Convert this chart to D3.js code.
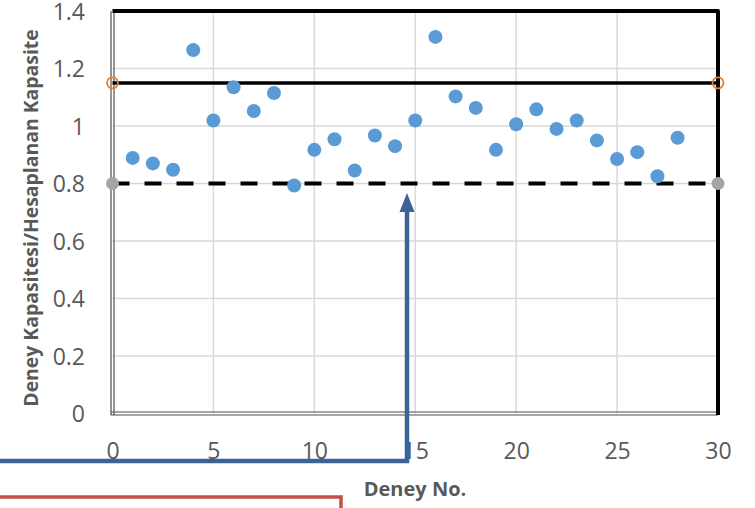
<!DOCTYPE html>
<html>
<head>
<meta charset="utf-8">
<script src="https://cdn.jsdelivr.net/npm/d3@7"></script>
<style>
  html, body { margin: 0; padding: 0; background: #fff; }
  svg { display: block; }
</style>
</head>
<body>
<svg id="chart" width="755" height="508"></svg>
<script>
// Test number vs. ratio of measured to calculated capacity
const testNo = [1, 2, 3, 4, 5, 6, 7, 8, 9, 10, 11, 12, 13, 14, 15, 16, 17, 18, 19, 20, 21, 22, 23, 24, 25, 26, 27, 28];
const ratio = [0.889, 0.870, 0.848, 1.264, 1.019, 1.135, 1.052, 1.115, 0.793, 0.917, 0.954, 0.845, 0.967, 0.930,
               1.019, 1.310, 1.103, 1.063, 0.917, 1.006, 1.058, 0.990, 1.019, 0.950, 0.885, 0.909, 0.825, 0.959];

// Reference limits
const upperLimitX = [0, 30];
const upperLimitY = [1.15, 1.15];
const lowerLimitX = [0, 30];
const lowerLimitY = [0.8, 0.8];

const xTicks = [0, 5, 10, 15, 20, 25, 30];
const yTicks = [0, 0.2, 0.4, 0.6, 0.8, 1, 1.2, 1.4];
const yTickLabels = ["0", "0.2", "0.4", "0.6", "0.8", "1", "1.2", "1.4"];

const xTitle = "Deney No.";
const yTitle = "Deney Kapasitesi/Hesaplanan  Kapasite";

const svg = d3.select("#chart");
const x = d3.scaleLinear().domain([0, 30]).range([112.5, 718]);
const y = d3.scaleLinear().domain([0, 1.4]).range([413.5, 11]);

const labelColor = "#595959";
const tickFont = "'Open Sans', sans-serif";

// Gridlines
const grid = svg.append("g");
grid.selectAll("line.gx").data(xTicks.slice(1, -1)).join("line")
  .attr("x1", d => x(d)).attr("x2", d => x(d))
  .attr("y1", y(0)).attr("y2", y(1.4))
  .attr("stroke", "#d9d9d9").attr("stroke-width", 1.5);
grid.selectAll("line.gy").data(yTicks.slice(1)).join("line")
  .attr("x1", x(0)).attr("x2", x(30))
  .attr("y1", d => y(d)).attr("y2", d => y(d))
  .attr("stroke", "#d9d9d9").attr("stroke-width", 1.5);

// Double-line left and bottom axis borders
[-1.5, 1.5].forEach(off => {
  svg.append("line")
    .attr("x1", x(0) + off).attr("x2", x(0) + off)
    .attr("y1", y(1.4)).attr("y2", y(0) + 1.5)
    .attr("stroke", "#4d4d4d").attr("stroke-width", 1.2);
  svg.append("line")
    .attr("x1", x(0) - 1.5).attr("x2", x(30))
    .attr("y1", y(0) + off).attr("y2", y(0) + off)
    .attr("stroke", "#4d4d4d").attr("stroke-width", 1.2);
});

// Heavy top and right frame
svg.append("path")
  .attr("d", d3.line()([[x(0), y(1.4)], [x(30), y(1.4)], [x(30), y(0) + 1.5]]))
  .attr("fill", "none").attr("stroke", "#000").attr("stroke-width", 4)
  .attr("stroke-linejoin", "round");

// Lower limit (dashed) and upper limit (solid)
const lineGen = d3.line().x(d => x(d[0])).y(d => y(d[1]));
svg.append("path")
  .attr("d", lineGen(d3.zip(lowerLimitX, lowerLimitY)))
  .attr("fill", "none").attr("stroke", "#000").attr("stroke-width", 4)
  .attr("stroke-dasharray", "17,15");
svg.append("path")
  .attr("d", lineGen(d3.zip(upperLimitX, upperLimitY)))
  .attr("fill", "none").attr("stroke", "#000").attr("stroke-width", 3.5);

svg.selectAll("circle.low").data(d3.zip(lowerLimitX, lowerLimitY)).join("circle")
  .attr("cx", d => x(d[0])).attr("cy", d => y(d[1])).attr("r", 6.5)
  .attr("fill", "#a5a5a5");
svg.selectAll("circle.up").data(d3.zip(upperLimitX, upperLimitY)).join("circle")
  .attr("cx", d => x(d[0])).attr("cy", d => y(d[1])).attr("r", 5.5)
  .attr("fill", "none").attr("stroke", "#ed7d31").attr("stroke-width", 1.8);

// Test results
svg.selectAll("circle.pt").data(d3.zip(testNo, ratio)).join("circle")
  .attr("cx", d => x(d[0])).attr("cy", d => y(d[1])).attr("r", 7)
  .attr("fill", "#5b9bd5");

// Axis tick labels
const xAxis = d3.axisBottom(x).tickValues(xTicks).tickSize(0).tickPadding(0).tickFormat(d3.format("d"));
const gx = svg.append("g").attr("transform", `translate(0,${y(0)})`).call(xAxis);
gx.select(".domain").remove();
gx.selectAll("text").attr("y", 39).attr("dy", null).attr("dominant-baseline", "middle")
  .attr("fill", labelColor).style("font-family", tickFont).style("font-size", "23px");

const yAxis = d3.axisLeft(y).tickValues(yTicks).tickSize(0).tickPadding(0)
  .tickFormat((d, i) => yTickLabels[i]);
const gy = svg.append("g").attr("transform", `translate(85,2)`).call(yAxis);
gy.select(".domain").remove();
gy.selectAll("text").attr("x", 0).attr("dy", null).attr("dominant-baseline", "middle")
  .attr("fill", labelColor).style("font-family", tickFont).style("font-size", "23px");

// Axis titles
svg.append("text")
  .attr("x", 415).attr("y", 491).attr("text-anchor", "middle")
  .attr("dominant-baseline", "middle")
  .attr("fill", labelColor).style("font-family", tickFont).style("font-weight", "bold")
  .style("font-size", "20px").text(xTitle);

svg.append("text")
  .attr("transform", "translate(33,218) rotate(-90)")
  .attr("text-anchor", "middle").attr("dominant-baseline", "middle")
  .attr("fill", labelColor).style("font-family", tickFont).style("font-weight", "bold")
  .style("font-size", "19.4px").text(yTitle);

// Callout: arrow pointing at the lower limit, and a highlight box
const blue = "#3b6395";
svg.append("path")
  .attr("d", d3.line()([[0, 461], [407, 461], [407, 210]]))
  .attr("fill", "none").attr("stroke", blue).attr("stroke-width", 4.5)
  .attr("stroke-linejoin", "miter");
svg.append("path")
  .attr("d", d3.line()([[399.5, 212], [407, 193], [414.5, 212]]) + "Z")
  .attr("fill", blue);

svg.append("path")
  .attr("d", d3.line()([[-5, 497], [341, 497], [341, 515]]))
  .attr("fill", "none").attr("stroke", "#c0504d").attr("stroke-width", 3.5);
</script>
</body>
</html>
